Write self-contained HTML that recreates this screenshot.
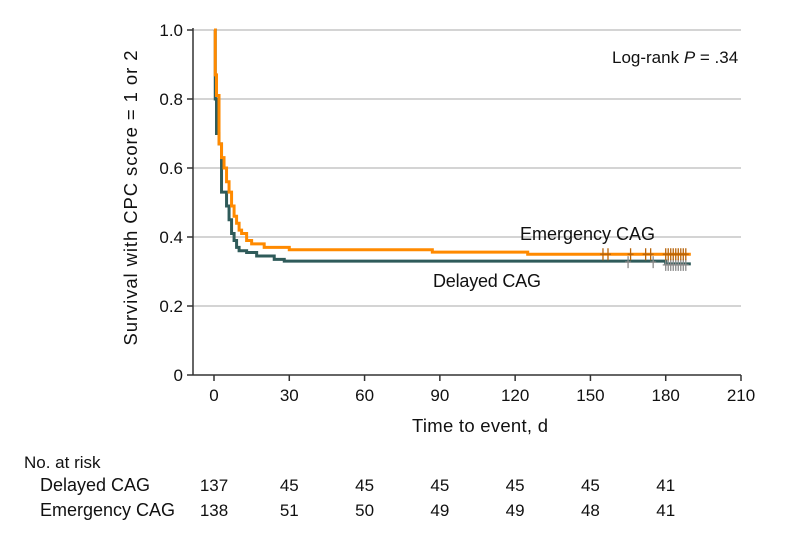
<!DOCTYPE html>
<html><head><meta charset="utf-8"><style>
body{margin:0;background:#fff;font-family:"Liberation Sans",sans-serif}
</style></head><body>
<svg id="c" width="794" height="538" font-family="Liberation Sans, sans-serif" font-size="17" fill="#111"></svg>
<script>
const xTicks=[0,30,60,90,120,150,180,210];
const yTicks=[0,0.2,0.4,0.6,0.8,1.0];
const emergT=[0,0.5,1,2,3,4,5,6,7,8,9,10,11,13,15,20,30,87,125,190];
const emergS=[1,0.87,0.81,0.67,0.63,0.60,0.56,0.53,0.49,0.46,0.44,0.42,0.41,0.39,0.38,0.37,0.363,0.356,0.35,0.35];
const delT=[0,0.5,1,2,3,5,6,7,8,9,10,13,17,24,28,180,190];
const delS=[1,0.80,0.70,0.67,0.53,0.49,0.45,0.41,0.39,0.37,0.36,0.355,0.345,0.335,0.33,0.322,0.322];
const emergCens=[155,157,166,172,174,180,181,182,183,184,185,186,187,188];
const delCens=[165,175,180,181,182,183,184,185,186,187,188];
const riskDel=[137,45,45,45,45,45,41];
const riskEm=[138,51,50,49,49,48,41];
const X=d=>214+d*(527/210), Y=v=>375-v*345;
const s=document.getElementById('c'),NS='http://www.w3.org/2000/svg';
function el(t,a,txt){const e=document.createElementNS(NS,t);for(const k in a)e.setAttribute(k,a[k]);if(txt!==undefined)e.textContent=txt;s.appendChild(e);return e;}
yTicks.forEach(v=>{if(v>0){const g=el('line',{x1:193,x2:741,y1:Y(v),y2:Y(v),stroke:'#d4d4d4','stroke-width':2});

}
el('line',{x1:187,x2:193,y1:Y(v),y2:Y(v),stroke:'#333','stroke-width':1.5});
const t=el('text',{x:183,y:Y(v)+6,'text-anchor':'end'},v===0?'0':v.toFixed(1));

});
el('line',{x1:193,x2:193,y1:Y(1)-2,y2:Y(0),stroke:'#333','stroke-width':1.5});
el('line',{x1:193,x2:741,y1:Y(0)+0,y2:Y(0),stroke:'#333','stroke-width':1.5});
xTicks.forEach(d=>{el('line',{x1:X(d),x2:X(d),y1:375,y2:381,stroke:'#333','stroke-width':1.5});
const t=el('text',{x:X(d),y:401,'text-anchor':'middle'},d);

});
function step(T,S,col,name){let p='M'+X(T[0])+','+Y(S[0]);for(let i=1;i<T.length;i++){p+='H'+X(T[i])+'V'+Y(S[i]);}
const e=el('path',{d:p,fill:'none',stroke:col,'stroke-width':3});

}
function sAt(T,S,d){let v=S[0];for(let i=0;i<T.length;i++)if(T[i]<=d)v=S[i];return v;}
step(delT,delS,'#2f5b5a','delayed-cag-curve');
step(emergT,emergS,'#ff8a00','emergency-cag-curve');
delCens.forEach(d=>{const y=Y(sAt(delT,delS,d))+1;el('line',{x1:X(d),x2:X(d),y1:y-6,y2:y+6,stroke:'#8a8a8a','stroke-width':1.3});el('line',{x1:X(d)-3,x2:X(d)+3,y1:y,y2:y,stroke:'#8a8a8a','stroke-width':1.3});});
emergCens.forEach(d=>{const y=Y(sAt(emergT,emergS,d));el('line',{x1:X(d),x2:X(d),y1:y-6,y2:y+6,stroke:'#b8640a','stroke-width':1.3});el('line',{x1:X(d)-3,x2:X(d)+3,y1:y,y2:y,stroke:'#b8640a','stroke-width':1.3});});
const a=el('text',{x:520,y:240,textLength:135,'font-size':18},'Emergency CAG');
const b=el('text',{x:433,y:287,textLength:108,'font-size':18},'Delayed CAG');
const lr=el('text',{x:612,y:63});lr.innerHTML='Log-rank <tspan font-style="italic">P</tspan> = .34';

const yt=el('text',{x:0,y:0,transform:'translate(137,198) rotate(-90)','text-anchor':'middle','font-size':18.5,textLength:295},'Survival with CPC score = 1 or 2');

const xt=el('text',{x:480,y:432,'text-anchor':'middle','font-size':18.5,textLength:136},'Time to event, d');

const nr=el('text',{x:24,y:468},'No. at risk');
const r1=el('text',{x:40,y:491,'font-size':18},'Delayed CAG');
const r2=el('text',{x:40,y:516,'font-size':18},'Emergency CAG');
riskDel.forEach((n,i)=>{const t=el('text',{x:X(i*30),y:491,'text-anchor':'middle'},n);});
riskEm.forEach((n,i)=>{const t=el('text',{x:X(i*30),y:516,'text-anchor':'middle'},n);});
</script>
</body></html>
